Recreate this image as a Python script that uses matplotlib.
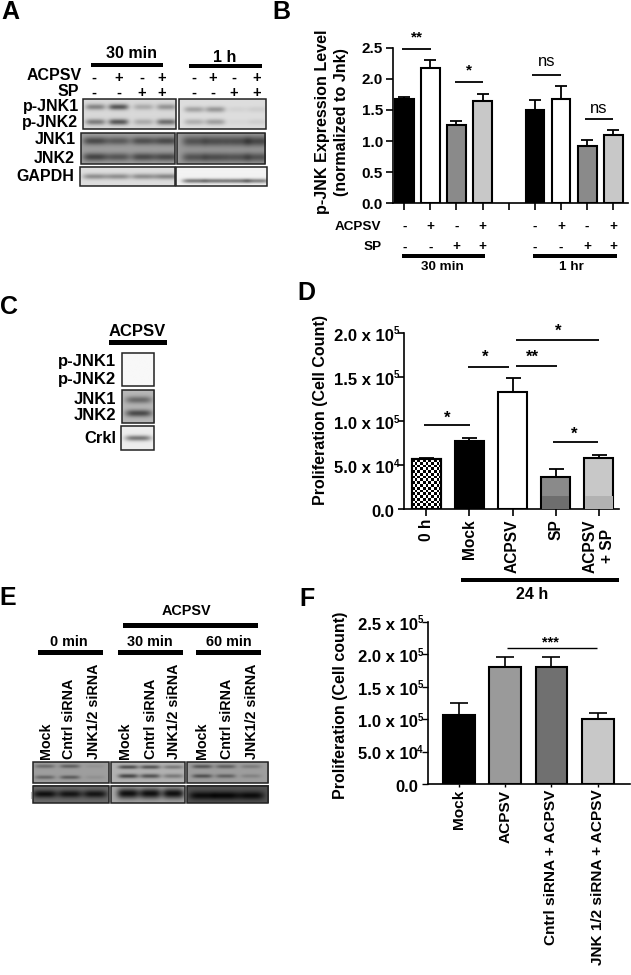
import numpy as np
import matplotlib
matplotlib.use("Agg")
import matplotlib.pyplot as plt
from matplotlib.patches import Rectangle
from matplotlib.transforms import ScaledTranslation

plt.rcParams['font.family'] = ['Liberation Sans', 'DejaVu Sans']
plt.rcParams['font.weight'] = 'bold'

# panel B
b_vals = [1.67, 2.18, 1.25, 1.64, 1.50, 1.68, 0.92, 1.10]
b_errs = [0.03, 0.13, 0.07, 0.12, 0.16, 0.21, 0.10, 0.07]
b_colors = ['black', 'white', '#8a8a8a', '#c8c8c8', 'black', 'white', '#8a8a8a', '#c8c8c8']
b_acpsv = ['-', '+', '-', '+', '-', '+', '-', '+']
b_sp = ['-', '-', '+', '+', '-', '-', '+', '+']

# panel D
d_labels = ['0 h', 'Mock', 'ACPSV', 'SP', 'ACPSV\n+ SP']
d_vals = [56600, 77700, 132800, 37000, 58100]
d_errs = [1900, 3400, 15500, 8700, 3800]
d_colors = ['white', 'black', 'white', '#8a8a8a', '#c8c8c8']
d_band = [0, 0, 0, 15000, 15000]
d_band_colors = ['white', 'black', 'white', '#6e6e6e', '#b2b2b2']
d_ticks = [0, 50000, 100000, 150000, 200000]
d_ticklabels = ['0.0', '5.0 x 10', '1.0 x 10', '1.5 x 10', '2.0 x 10']
d_exps = ['', '4', '5', '5', '5']

# panel F
f_labels = ['Mock', 'ACPSV', 'Cntrl siRNA + ACPSV', 'JNK 1/2 siRNA + ACPSV']
f_vals = [105700, 180200, 180200, 100100]
f_errs = [18500, 15900, 15900, 9200]
f_colors = ['black', '#9a9a9a', '#707070', '#c8c8c8']
f_ticks = [0, 50000, 100000, 150000, 200000, 250000]
f_ticklabels = ['0.0', '5.0 x 10', '1.0 x 10', '1.5 x 10', '2.0 x 10', '2.5 x 10']
f_exps = ['', '4', '5', '5', '5', '5']

# blot band strengths per lane
a_pjnk1_30 = [0.55, 0.85, 0.30, 0.45]
a_pjnk2_30 = [0.60, 0.85, 0.30, 0.70]
a_pjnk1_1h = [0.38, 0.45, 0.07, 0.10]
a_pjnk2_1h = [0.30, 0.40, 0.05, 0.10]
a_jnk1_30 = [0.75, 0.60, 0.70, 0.75]
a_jnk2_30 = [0.80, 0.65, 0.75, 0.75]
a_jnk1_1h = [0.65, 0.70, 0.70, 0.75]
a_jnk2_1h = [0.65, 0.70, 0.65, 0.65]
a_gapdh_30 = [0.50, 0.50, 0.50, 0.55]
a_gapdh_1h = [0.70, 0.70, 0.70, 0.65]
e_top1_0 = [0.45, 0.55, 0.10]
e_top2_0 = [0.50, 0.60, 0.12]
e_top1_30 = [0.80, 0.75, 0.45]
e_top2_30 = [0.85, 0.75, 0.45]
e_top1_60 = [0.65, 0.55, 0.30]
e_top2_60 = [0.70, 0.55, 0.25]
e_low_0 = [0.85, 0.80, 0.80]
e_low_30 = [0.90, 0.90, 0.90]
e_low_60 = [0.85, 0.90, 0.85]

fig = plt.figure(figsize=(6.31, 9.75), dpi=100)

# whole figure in pixels for blots and text
ov = fig.add_axes([0, 0, 1, 1])
ov.set_xlim(0, 631)
ov.set_ylim(975, 0)
ov.axis('off')


def blot(x0, y0, x1, y1, bg, lanes, bands, hw=9, dk=0.7):
    # bands: (y pixel, half thickness, strengths per lane)
    xs = np.arange(x0, x1, 0.5)
    ys = np.arange(y0, y1, 0.5)
    xx, yy = np.meshgrid(xs, ys)
    img = np.full(xx.shape, bg, dtype=float)
    for yc, th, strengths in bands:
        for c, s in zip(lanes, strengths):
            img -= dk * s * bg * np.exp(-((yy - yc) / th) ** 2) * np.exp(-((xx - c) / hw) ** 4)
    ov.imshow(img, cmap='gray', vmin=0, vmax=1, extent=(x0, x1, y1, y0),
              aspect='auto', interpolation='bilinear', zorder=1)
    ov.add_patch(Rectangle((x0, y0), x1 - x0, y1 - y0, fill=False, ec='#222222', lw=1.1, zorder=2))


def bar(x0, x1, y, th=4.5):
    ov.add_patch(Rectangle((x0, y - th / 2), x1 - x0, th, fc='black', ec='none', zorder=3))


def sig(x0, x1, y, lab, ly, lx=None, lw=1.3, size=11):
    ov.plot([x0, x1], [y, y], color='black', lw=lw, solid_capstyle='butt')
    ov.text((x0 + x1) / 2 if lx is None else lx, ly, lab, ha='center', va='center', fontsize=size,
            fontweight='normal' if lab == 'ns' else 'bold')


def txt(x, y, s, size=11.5, ha='center', rot=0, va='center'):
    ov.text(x, y, s, fontsize=size, ha=ha, va=va, rotation=rot, rotation_mode='anchor' if rot else 'default')


def px_axes(x0, ytop, x1, ybot):
    a = fig.add_axes([x0 / 631, 1 - ybot / 975, (x1 - x0) / 631, (ybot - ytop) / 975])
    a.patch.set_alpha(0)
    a.spines['top'].set_visible(False)
    a.spines['right'].set_visible(False)
    a.spines['left'].set_linewidth(1.2)
    a.spines['bottom'].set_linewidth(1.2)
    return a


def exps(a, ticks, labels, off):
    # exponent sits between the label and the tick, labels hang a bit below their tick
    tr = a.get_yaxis_transform()
    for t, e in zip(ticks, labels):
        if e:
            a.annotate(e, (0, t), xycoords=tr, xytext=(off, 1), textcoords='offset points',
                       ha='right', va='center', fontsize=7)
    for lab in a.get_yticklabels():
        lab.set_transform(lab.get_transform() + ScaledTranslation(0, -1.4 / 72, fig.dpi_scale_trans))


# panel letters
for lab, x, y in [('A', 10, 12), ('B', 281, 12), ('C', 9, 307), ('D', 306, 293), ('E', 8, 598), ('F', 307, 599)]:
    txt(x, y, lab, size=18)

# A
txt(131.7, 54, '30 min')
txt(225, 57, '1 h')
bar(90.7, 163.3, 65)
bar(189, 262, 66)
txt(81.7, 76, 'ACPSV', ha='right')
txt(79.3, 91, 'SP', ha='right')
for x, s1, s2 in zip([94, 119, 142, 162, 194, 213, 234, 257], b_acpsv, b_sp):
    txt(x, 78, s1, size=10.5)
    txt(x, 92.7, s2, size=10.5)
for lab, x, y in [('p-JNK1', 79, 106), ('p-JNK2', 77.7, 122), ('JNK1', 76, 140), ('JNK2', 75, 158.5), ('GAPDH', 74.7, 176.7)]:
    txt(x, y, lab, ha='right')
lanes_l = [95, 118, 143, 166]
lanes_r = [194, 215, 237, 257]
blot(82.7, 99.3, 175.7, 129, 0.85, lanes_l, [(107, 3, a_pjnk1_30), (122, 3, a_pjnk2_30)], hw=10)
blot(179, 99.3, 265.7, 129, 0.87, lanes_r, [(109.5, 3, a_pjnk1_1h), (122, 3, a_pjnk2_1h)], hw=10)
blot(81, 133, 174.7, 163.7, 0.62, lanes_l, [(140.7, 4, a_jnk1_30), (156.7, 4, a_jnk2_30)], hw=12)
blot(177, 133, 265.3, 163.7, 0.60, lanes_r, [(141, 5, a_jnk1_1h), (157, 4.5, a_jnk2_1h)], hw=12)
blot(80.3, 166.7, 174.7, 186, 0.87, lanes_l, [(176.7, 2.8, a_gapdh_30)], hw=12)
blot(176, 166.7, 266.7, 186, 0.95, lanes_r, [(181, 2.2, a_gapdh_1h)], hw=12)

# B
ax = px_axes(392.7, 47.7, 628, 203.3)
b_x = [0, 1, 2, 3, 5, 6, 7, 8]
ax.bar(b_x, b_vals, width=0.72, color=b_colors, edgecolor='black', linewidth=1.5, zorder=3)
ax.errorbar(b_x, b_vals, yerr=[[0] * 8, b_errs], fmt='none', ecolor='black', elinewidth=1.3, capsize=4, capthick=1.3, zorder=2)
ax.set_xlim(-0.44, 8.56)
ax.set_ylim(0, 2.5)
ax.set_yticks([0, 0.5, 1, 1.5, 2, 2.5], ['0.0', '0.5', '1.0', '1.5', '2.0', '2.5'], fontsize=11)
ax.set_xticks(range(9), [])
ax.tick_params(width=1.2, length=5, pad=2)
txt(323, 122, 'p-JNK Expression Level', size=11.6, rot=90)
txt(341.7, 122, '(normalized to Jnk)', size=11.6, rot=90)
sig(402.3, 431, 48.7, '**', 37)
sig(455, 483.3, 82, '*', 70)
sig(532.3, 561, 74.7, 'ns', 61.7, size=12)
sig(585, 613.3, 119.3, 'ns', 108.3, size=12)
txt(381, 226.7, 'ACPSV', size=9.7, ha='right')
txt(382, 247.3, 'SP', size=9.7, ha='right')
for pos, s1, s2 in zip(b_x, b_acpsv, b_sp):
    x = 404.3 + pos * 26.1
    txt(x, 226.7, s1, size=9.7)
    txt(x, 247.3, s2, size=9.7)
bar(402.3, 485, 256, th=4)
bar(533.3, 616.7, 256, th=4)
txt(442, 267.5, '30 min', size=9.7)
txt(571.7, 267.5, '1 hr', size=9.7)

# C
txt(137.7, 331.7, 'ACPSV', size=12)
bar(108.7, 167, 342.3, th=5)
for lab, y in [('p-JNK1', 361.7), ('p-JNK2', 379.3), ('JNK1', 399.3), ('JNK2', 415.7), ('Crkl', 438.3)]:
    txt(116, y, lab, ha='right', size=12)
blot(121.7, 352.7, 154, 386, 0.97, [138], [])
blot(121.7, 389.7, 154, 422.7, 0.72, [138], [(399.3, 3.6, [0.6]), (412.7, 3.6, [0.85])], hw=13)
blot(121, 425.7, 153.7, 450, 0.93, [138], [(438.3, 2.8, [0.7])], hw=13)

# D
ax = px_axes(404.3, 332.7, 619, 509.3)
d_x = np.arange(5)
bars = ax.bar(d_x, d_vals, width=0.68, color=d_colors, edgecolor='black', linewidth=1.5, zorder=3)
ax.bar(d_x, d_band, width=0.64, color=d_band_colors, linewidth=0, zorder=4)
ax.errorbar(d_x, d_vals, yerr=[[0] * 5, d_errs], fmt='none', ecolor='black', elinewidth=1.3, capsize=5.4, capthick=1.3, zorder=2)
# checker fill for the 0 h bar
chk = np.indices((18, 11)).sum(axis=0) % 2
im = ax.imshow(chk, cmap='gray', extent=(-0.34, 0.34, 0, d_vals[0]), aspect='auto', zorder=3.5, interpolation='nearest')
im.set_clip_path(bars[0])
ax.bar([0], [d_vals[0]], width=0.68, fill=False, edgecolor='black', linewidth=1.5, zorder=5)
ax.set_xlim(-0.51, 4.47)
ax.set_ylim(0, 200000)
ax.set_yticks(d_ticks, d_ticklabels, fontsize=12)
ax.set_xticks(d_x, d_labels, rotation=90, fontsize=11.2)
ax.tick_params(axis='x', width=1.2, length=5, pad=2)
ax.tick_params(axis='y', width=1.2, length=4, pad=3.5)
exps(ax, d_ticks, d_exps, -3.5)
txt(320, 410, 'Proliferation (Cell Count)', size=11.5, rot=90)
sig(424.3, 470, 425.3, '*', 418.5, size=12)
sig(467.7, 508.7, 366.7, '*', 357.5, lx=485.3, size=12)
sig(516, 557.3, 366, '**', 357.5, lx=532, size=12)
sig(516, 598.7, 339.7, '*', 331.5, lx=558, size=12)
sig(552.7, 598.3, 442.3, '*', 434.5, lx=574.3, size=12)
bar(460.7, 619.3, 580)
txt(531.7, 594.5, '24 h')

# E
txt(186.7, 610.7, 'ACPSV', size=10.4)
bar(123, 258, 625.7)
for lab, xc, x0, x1 in [('0 min', 69, 38.3, 103.3), ('30 min', 150, 118, 182.7), ('60 min', 228.7, 195.7, 260.7)]:
    txt(xc, 642.5, lab, size=10.4)
    bar(x0, x1, 652.7)
for xs in ([46, 69.3, 94.3], [125, 150.7, 174], [202.3, 226.7, 251.7]):
    for x, lab in zip(xs, ['Mock', 'Cntrl siRNA', 'JNK1/2 siRNA']):
        ov.text(x, 759, lab, fontsize=10.3, rotation=90, ha='center', va='bottom')
blot(33.3, 761.7, 109.3, 782.7, 0.62, [45, 70, 95], [(765.7, 1.9, e_top1_0), (776.7, 1.9, e_top2_0)], hw=10)
blot(111, 761.7, 185, 782.7, 0.70, [128, 150, 173], [(766.5, 1.9, e_top1_30), (775.5, 2.2, e_top2_30)], hw=10)
blot(186.7, 761.7, 268, 782.7, 0.62, [201.7, 225, 250], [(766, 1.9, e_top1_60), (775.5, 2, e_top2_60)], hw=10)
blot(33.3, 786, 109.3, 803.3, 0.42, [45, 70, 95], [(794.5, 3.8, e_low_0)], hw=12, dk=1)
blot(111, 786, 185, 803.3, 0.65, [128, 150, 173], [(794, 5, e_low_30)], hw=11, dk=1)
blot(186.7, 786, 268, 803.3, 0.32, [201.7, 225, 250], [(796, 4, e_low_60)], hw=13, dk=1)
ov.plot([30.5, 30.5], [792, 798], color='#bbbbbb', lw=0.8)

# F
ax = px_axes(427.7, 621.7, 630, 784)
f_x = np.arange(4)
ax.bar(f_x, f_vals, width=0.69, color=f_colors, edgecolor='black', linewidth=1.5, zorder=3)
ax.errorbar(f_x, f_vals, yerr=[[0] * 4, f_errs], fmt='none', ecolor='black', elinewidth=1.2, capsize=6.8, capthick=1.2, zorder=2)
ax.set_xlim(-0.68, 3.70)
ax.set_ylim(0, 250000)
ax.set_yticks(f_ticks, f_ticklabels, fontsize=12)
ax.set_xticks(f_x, f_labels, rotation=90, fontsize=11.1)
ax.tick_params(axis='y', width=1.0, length=4.5, pad=2.5)
ax.tick_params(axis='x', width=1.0, length=2, pad=2)
exps(ax, f_ticks, f_exps, -3.5)
txt(340, 705.8, 'Proliferation (Cell count)', size=11.5, rot=90)
sig(506.7, 596.7, 647.7, '***', 642.5, lx=550, lw=1.0, size=10.5)

fig.savefig('out.png', dpi=100)
